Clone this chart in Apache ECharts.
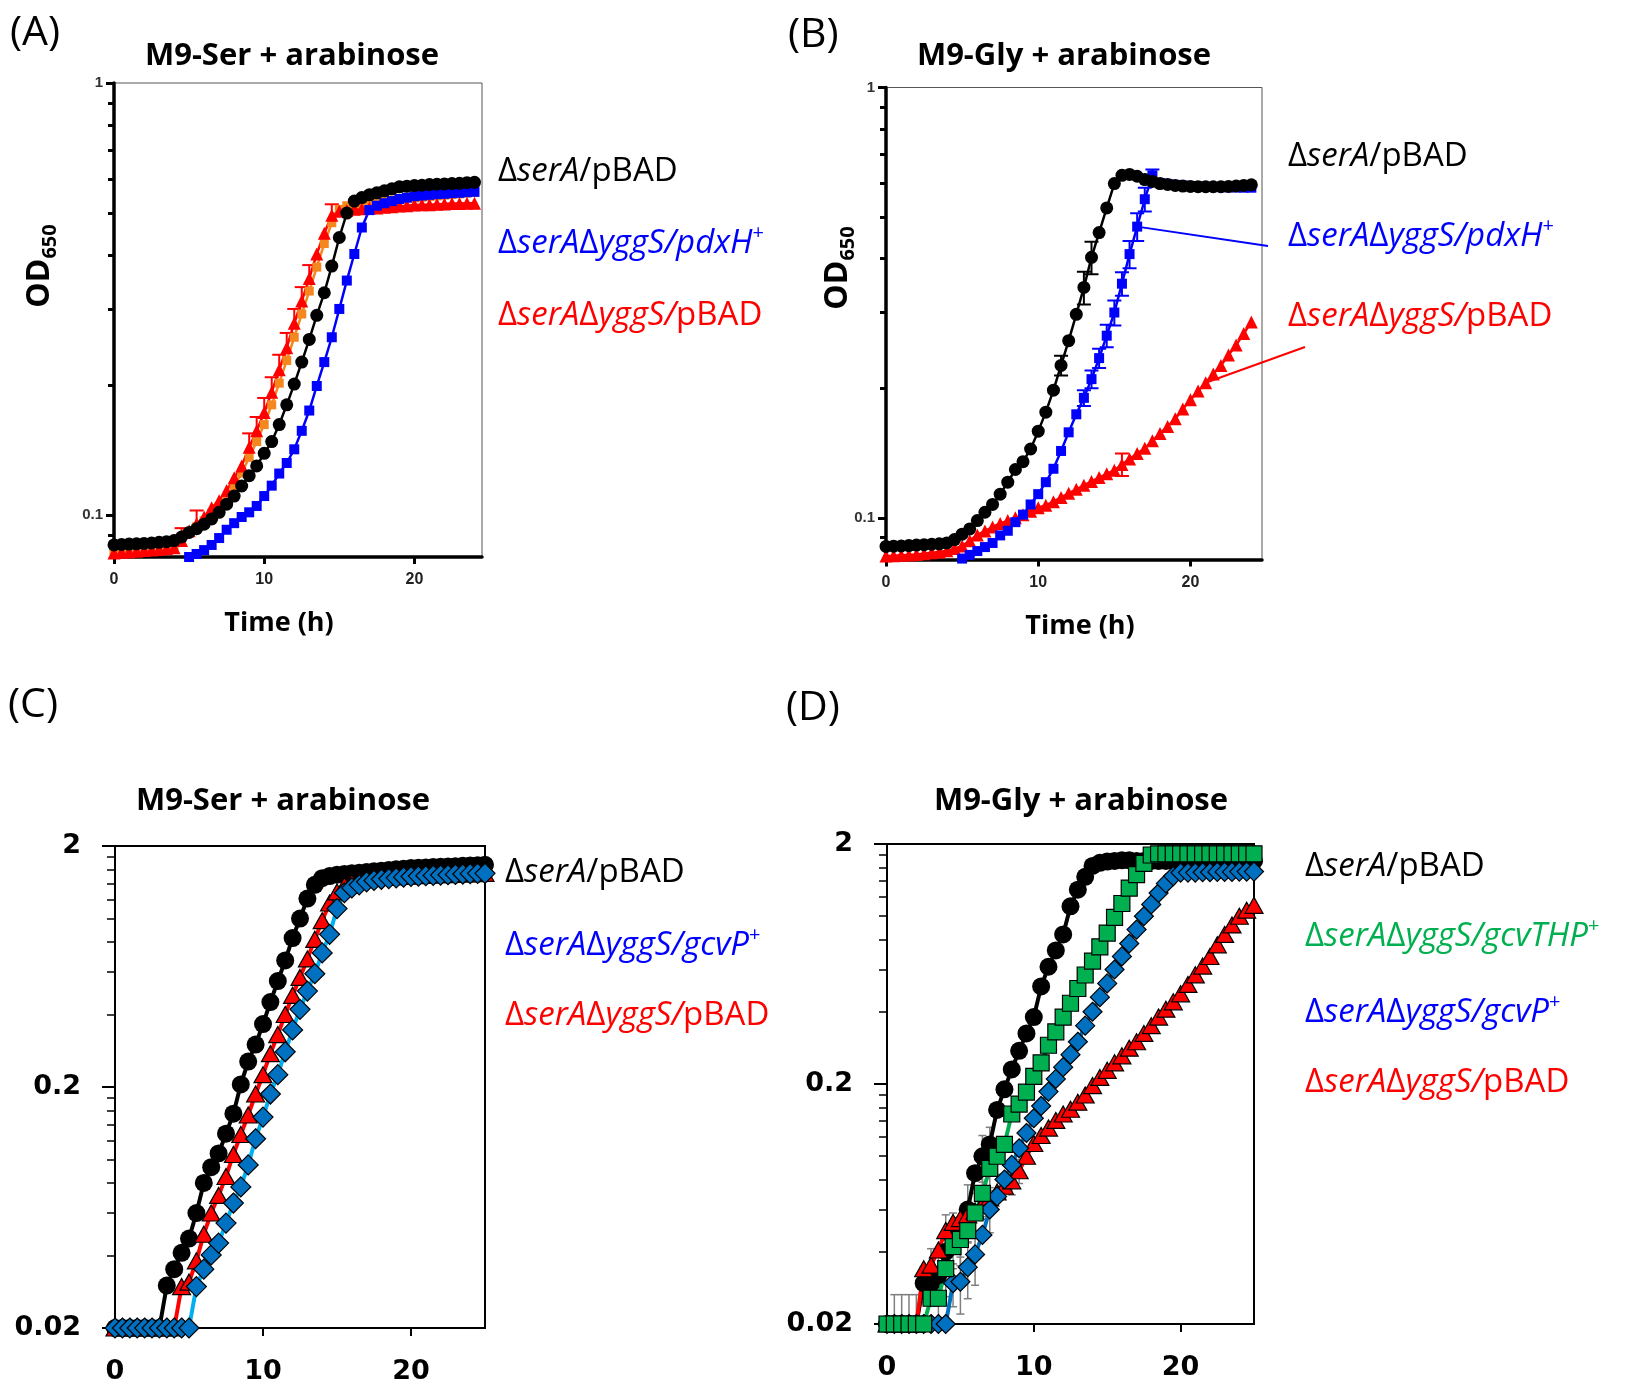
<!DOCTYPE html>
<html><head><meta charset="utf-8">
<script src="https://cdn.jsdelivr.net/npm/echarts@6/dist/echarts.min.js"></script>
<style>html,body{margin:0;padding:0;background:#fff}#c{width:1633px;height:1384px}</style>
</head><body><div id="c"></div>
<script>
// ---------- DATA ----------
const tA = [0,0.5,1,1.5,2,2.5,3,3.5,4,4.5,5,5.5,6,6.5,7,7.5,8,8.5,9,9.5,10,10.5,11,11.5,12,12.5,13,13.5,14,14.5,15,15.5,16,16.5,17,17.5,18,18.5,19,19.5,20,20.5,21,21.5,22,22.5,23,23.5,24];
const tC = [0,0.5,1,1.5,2,2.5,3,3.5,4,4.5,5,5.5,6,6.5,7,7.5,8,8.5,9,9.5,10,10.5,11,11.5,12,12.5,13,13.5,14,14.5,15,15.5,16,16.5,17,17.5,18,18.5,19,19.5,20,20.5,21,21.5,22,22.5,23,23.5,24,24.5,25];

// Panel A (M9-Ser + arabinose)
const blackA = [0.0853,0.0855,0.0857,0.0858,0.086,0.0862,0.0865,0.0868,0.0873,0.089,
  0.0912,0.093,0.0953,0.098,0.1015,0.106,0.1107,0.1168,0.1234,0.130,
  0.139,0.148,0.162,0.180,0.201,0.226,0.255,0.290,0.327,0.377,
  0.439,0.500,0.533,0.543,0.551,0.557,0.563,0.569,0.575,0.577,
  0.579,0.580,0.582,0.583,0.584,0.585,0.586,0.588,0.589];
const redA = [0.0817,0.082,0.0822,0.0825,0.0828,0.083,0.0833,0.0836,0.084,0.0873,
  0.092,0.0955,0.099,0.104,0.108,0.114,0.122,0.130,0.1436,0.1567,
  0.1727,0.1925,0.217,0.244,0.278,0.313,0.353,0.402,0.449,0.494,
  0.505,0.507,0.510,0.512,0.513,0.514,0.516,0.517,0.519,0.520,
  0.522,0.523,0.523,0.524,0.525,0.526,0.526,0.527,0.527];
const orangeA = [0.0825,0.0827,0.083,0.0832,0.0835,0.0838,0.084,0.0843,0.0848,0.087,
  0.091,0.094,0.097,0.101,0.105,0.110,0.117,0.125,0.136,0.148,
  0.162,0.180,0.202,0.228,0.258,0.292,0.330,0.375,0.425,0.475,
  0.510,0.520,0.525,0.528,0.530,0.532,0.534,0.536,0.538,0.540,
  0.542,0.544,0.546,0.548,0.550,0.552,0.554,0.556,0.558];
const blueA = [null,null,null,null,null,null,null,null,null,null,
  0.080,0.0813,0.083,0.0853,0.0885,0.0925,0.0958,0.099,0.1015,0.105,
  0.1107,0.117,0.1248,0.132,0.142,0.1567,0.1746,0.199,0.226,0.258,
  0.300,0.349,0.402,0.463,0.508,0.520,0.527,0.533,0.539,0.543,
  0.547,0.549,0.551,0.553,0.554,0.556,0.557,0.559,0.560];
const errRedA = [[4.5,0.006],[5.5,0.007],[9,0.011],[9.5,0.012],[10,0.014],[10.5,0.016],[11,0.018],[11.5,0.02],[12,0.022],[12.5,0.024],[13,0.026],[14.5,0.03]];

// Panel B (M9-Gly + arabinose)
const blackB = [0.0858,0.0859,0.086,0.0862,0.0864,0.0866,0.0868,0.087,0.0874,0.089,
  0.0916,0.0942,0.0985,0.103,0.1074,0.1135,0.121,0.1295,0.135,0.1445,
  0.159,0.176,0.198,0.226,0.258,0.297,0.343,0.403,0.460,0.525,
  0.598,0.625,0.628,0.622,0.611,0.605,0.598,0.595,0.592,0.590,
  0.589,0.588,0.588,0.588,0.588,0.589,0.590,0.592,0.594];
const blueB = [null,null,null,null,null,null,null,null,null,null,
  0.0804,0.082,0.0837,0.0855,0.0874,0.091,0.0933,0.0977,0.1017,0.1074,
  0.1135,0.121,0.130,0.143,0.158,0.174,0.19,0.21,0.235,0.265,
  0.30,0.35,0.41,0.475,0.55,0.625,0.600,0.597,0.594,0.592,
  0.590,0.589,0.588,0.587,0.587,0.586,0.586,0.585,0.585];
const redB = [0.0815,0.0816,0.0818,0.082,0.0822,0.0825,0.0829,0.0833,0.0838,0.0848,
  0.086,0.0885,0.0912,0.0932,0.0952,0.097,0.0985,0.100,0.1017,0.1035,
  0.1055,0.107,0.109,0.1115,0.114,0.1165,0.119,0.1215,0.124,0.1265,
  0.129,0.133,0.137,0.141,0.145,0.151,0.157,0.163,0.170,0.179,
  0.188,0.197,0.206,0.216,0.226,0.239,0.252,0.268,0.285];
const errBlackB = [[11.5,0.012],[13,0.03],[13.5,0.035]];
const errBlueB = [[13,0.008],[13.5,0.01],[14,0.012],[14.5,0.016],[15,0.02],[15.5,0.022],[16,0.03],[16.5,0.035],[17,0.035],[17.5,0.02]];
const errRedB = [[15.5,0.008]];

// Panel C (M9-Ser + arabinose)
const blackC = [0.02,0.02,0.02,0.02,0.02,0.02,0.02,0.030,0.0351,0.041,
  0.047,0.06,0.08,0.093,0.106,0.128,0.155,0.205,0.255,0.30,
  0.365,0.45,0.55,0.67,0.83,1.0,1.21,1.38,1.47,1.50,
  1.52,1.53,1.54,1.55,1.56,1.57,1.58,1.59,1.60,1.61,
  1.62,1.625,1.63,1.635,1.64,1.645,1.65,1.655,1.66,1.665,1.67];
const redC = [0.02,0.02,0.02,0.02,0.02,0.02,0.02,0.02,0.02,0.0297,
  0.031,0.038,0.049,0.06,0.071,0.085,0.105,0.127,0.153,0.187,
  0.225,0.275,0.33,0.40,0.48,0.57,0.68,0.82,0.98,1.16,
  1.29,1.37,1.41,1.44,1.46,1.47,1.48,1.485,1.49,1.495,
  1.50,1.505,1.51,1.515,1.52,1.52,1.525,1.53,1.53,1.535,1.54];
const blueC = [0.02,0.02,0.02,0.02,0.02,0.02,0.02,0.02,0.02,0.02,
  0.02,0.0297,0.0351,0.0402,0.045,0.0545,0.066,0.077,0.095,0.122,
  0.15,0.187,0.225,0.28,0.345,0.42,0.50,0.59,0.72,0.86,
  1.10,1.28,1.34,1.38,1.42,1.44,1.455,1.465,1.475,1.485,
  1.495,1.50,1.505,1.51,1.515,1.52,1.525,1.53,1.535,1.54,1.54];

// Panel D (M9-Gly + arabinose)
const blackD = [0.02,0.02,0.02,0.02,0.02,0.0296,0.0296,0.032,0.040,0.046,
  0.052,0.06,0.085,0.10,0.112,0.156,0.19,0.23,0.275,0.325,
  0.38,0.51,0.616,0.72,0.84,1.1,1.29,1.46,1.62,1.67,
  1.69,1.70,1.71,1.71,1.70,1.70,1.70,1.70,1.70,1.70,
  1.70,1.70,1.70,1.70,1.70,1.70,1.70,1.70,1.70,1.70,1.70];
const greenD = [0.02,0.02,0.02,0.02,0.02,0.02,0.0256,0.0256,0.034,0.042,
  0.045,0.049,0.058,0.07,0.089,0.10,0.112,0.15,0.165,0.185,
  0.215,0.245,0.29,0.33,0.38,0.434,0.50,0.569,0.65,0.746,
  0.85,0.99,1.13,1.31,1.49,1.66,1.80,1.82,1.82,1.82,
  1.82,1.82,1.82,1.82,1.82,1.82,1.82,1.82,1.82,1.82,1.82];
const blueD = [0.02,0.02,0.02,0.02,0.02,0.02,0.02,0.02,0.02,0.0296,
  0.030,0.0345,0.039,0.047,0.060,0.068,0.080,0.092,0.108,0.125,
  0.144,0.162,0.186,0.21,0.235,0.265,0.30,0.35,0.40,0.46,
  0.525,0.60,0.68,0.77,0.88,1.0,1.12,1.25,1.37,1.47,
  1.52,1.52,1.52,1.525,1.525,1.53,1.53,1.53,1.535,1.535,1.535];
const redD = [0.02,0.02,0.02,0.02,0.02,0.034,0.0352,0.0407,0.049,0.053,
  0.055,0.057,0.059,0.063,0.067,0.071,0.075,0.079,0.087,0.10,
  0.113,0.122,0.131,0.141,0.150,0.157,0.168,0.18,0.197,0.213,
  0.228,0.245,0.262,0.282,0.30,0.325,0.35,0.38,0.41,0.44,
  0.475,0.52,0.57,0.62,0.68,0.76,0.84,0.92,1.0,1.06,1.11];
const errBlackD = [[2.5,0.005],[3.5,0.008],[4.5,0.012],[5.5,0.016],[6.5,0.022],[7,0.02]];
const errGreenD = [[0.5,0.0065],[1,0.0065],[1.5,0.0065],[2,0.0065],[3.5,0.006],[4,0.008],[5,0.01],[6,0.012],[6.5,0.014],[7,0.015],[7.5,0.016]];
const errBlueD = [[4.5,0.006],[5,0.008],[5.5,0.009],[6,0.01],[7,0.012]];
const errRedD = [[3,0.006],[4,0.008],[8.5,0.01],[9,0.01]];

// tick values
const majorAB = [0.1, 1];
const minorAB = [0.09,0.2,0.3,0.4,0.5,0.6,0.7,0.8,0.9];
const majorCD = [0.02, 0.2, 2];
const minorCD = [0.04,0.06,0.08,0.1,0.12,0.14,0.16,0.18,0.4,0.6,0.8,1,1.2,1.4,1.6,1.8];
const xTicks = [0, 10, 20];

// ---------- HELPERS ----------
const LF = '"Open Sans","Noto Sans",sans-serif';
const BF = '"DejaVu Sans",Verdana,sans-serif';
const AF = '"Liberation Sans",Arial,sans-serif';
function pairs(ts, vs) { const o = []; for (let i = 0; i < ts.length; i++) if (vs[i] != null) o.push([ts[i], vs[i]]); return o; }
function valAt(ts, vs, t) { return vs[ts.indexOf(t)]; }
function errData(ts, vs, errs, mode) {
  return errs.map(([t, e]) => { const v = valAt(ts, vs, t); return [t, mode === 'up' ? v : v - e, v + e]; });
}
function errSeries(gi, data, color, mode, cap, lw) {
  return {
    type: 'custom', xAxisIndex: gi, yAxisIndex: gi * 2, data: data, clip: true, silent: true,
    renderItem: function (params, api) {
      const x = api.value(0), lo = api.value(1), hi = api.value(2);
      const p0 = api.coord([x, lo]), p1 = api.coord([x, hi]);
      const st = { stroke: color, lineWidth: lw };
      const ch = [
        { type: 'line', shape: { x1: p0[0], y1: p0[1], x2: p1[0], y2: p1[1] }, style: st },
        { type: 'line', shape: { x1: p1[0] - cap, y1: p1[1], x2: p1[0] + cap, y2: p1[1] }, style: st }
      ];
      if (mode === 'both') ch.push({ type: 'line', shape: { x1: p0[0] - cap, y1: p0[1], x2: p0[0] + cap, y2: p0[1] }, style: st });
      return { type: 'group', children: ch };
    }
  };
}
function lineSeries(gi, ts, vs, o) {
  return {
    type: 'line', xAxisIndex: gi, yAxisIndex: gi * 2, data: pairs(ts, vs),
    symbol: o.symbol, symbolSize: o.size, showAllSymbol: true, clip: true,
    lineStyle: { color: o.line, width: o.lw },
    itemStyle: { color: o.fill, borderColor: o.border || o.fill, borderWidth: o.border ? 1.2 : 0 },
    emphasis: { disabled: true }, z: 2
  };
}
const fmt = v => String(+Number(v).toPrecision(3));
function xAx(gi, max, big) {
  return {
    type: 'value', gridIndex: gi, min: 0, max: max, position: 'bottom',
    axisLine: { show: true, onZero: false, lineStyle: { color: '#000', width: big ? 2 : 3.5 } },
    axisTick: { show: true, inside: false, length: big ? 8 : 7, customValues: xTicks, lineStyle: { color: '#000', width: big ? 2 : 3 } },
    axisLabel: { customValues: xTicks, formatter: fmt, fontFamily: big ? BF : AF, fontWeight: 'bold', color: big ? '#000' : '#222', fontSize: big ? 27 : 16, margin: big ? 30 : 15 },
    splitLine: { show: false }
  };
}
function yMajor(gi, min, max, ticks, big) {
  return {
    type: 'log', logBase: 10, gridIndex: gi, min: min, max: max, position: 'left',
    axisLine: { show: true, onZero: false, lineStyle: { color: '#000', width: big ? 2 : 3.5 } },
    axisTick: { show: true, inside: false, length: big ? 13 : 8, customValues: ticks, lineStyle: { color: '#000', width: big ? 2 : 3 } },
    axisLabel: { customValues: ticks, formatter: fmt, fontFamily: big ? BF : AF, fontWeight: 'bold', color: big ? '#000' : '#333', fontSize: big ? 27 : 15, margin: big ? 34 : 11 },
    splitLine: { show: false }, minorTick: { show: false }
  };
}
function yMinor(gi, min, max, ticks, big) {
  return {
    type: 'log', logBase: 10, gridIndex: gi, min: min, max: max, position: 'left',
    axisLine: { show: false, onZero: false },
    axisTick: { show: true, inside: false, length: big ? 8 : 6, customValues: ticks, lineStyle: { color: '#000', width: big ? 1.5 : 3 } },
    axisLabel: { show: false }, splitLine: { show: false }
  };
}

// ---------- CHART ----------
const chart = echarts.init(document.getElementById('c'), null, { renderer: 'canvas' });
const gbase = { show: true, backgroundColor: 'transparent', outerBoundsMode: 'none', containLabel: false };
const option = {
  animation: false,
  backgroundColor: '#fff',
  grid: [
    Object.assign({ left: 114, top: 83, width: 368, height: 474, borderColor: '#555', borderWidth: 1 }, gbase),
    Object.assign({ left: 886, top: 87.5, width: 376, height: 472, borderColor: '#555', borderWidth: 1 }, gbase),
    Object.assign({ left: 115, top: 846, width: 370, height: 482, borderColor: '#000', borderWidth: 2 }, gbase),
    Object.assign({ left: 887, top: 844, width: 367, height: 480, borderColor: '#000', borderWidth: 2 }, gbase)
  ],
  xAxis: [xAx(0, 24.5, false), xAx(1, 24.7, false), xAx(2, 25, true), xAx(3, 25, true)],
  yAxis: [
    yMajor(0, 0.08, 1, majorAB, false), yMinor(0, 0.08, 1, minorAB, false),
    yMajor(1, 0.08, 1, majorAB, false), yMinor(1, 0.08, 1, minorAB, false),
    yMajor(2, 0.02, 2, majorCD, true), yMinor(2, 0.02, 2, minorCD, true),
    yMajor(3, 0.02, 2, majorCD, true), yMinor(3, 0.02, 2, minorCD, true)
  ],
  series: [
    // A
    lineSeries(0, tA, orangeA, { symbol: 'rect', size: 9, fill: '#F5871F', line: '#F5871F', lw: 2.5 }),
    errSeries(0, errData(tA, redA, errRedA, 'up'), '#FF0000', 'up', 7, 2),
    lineSeries(0, tA, redA, { symbol: 'triangle', size: 13, fill: '#FF0000', line: '#FF0000', lw: 2.5 }),
    lineSeries(0, tA, blueA, { symbol: 'rect', size: 10, fill: '#0000FF', line: '#0000FF', lw: 2.5 }),
    lineSeries(0, tA, blackA, { symbol: 'circle', size: 13, fill: '#000', line: '#000', lw: 2.5 }),
    // B
    errSeries(1, errData(tA, redB, errRedB, 'both'), '#FF0000', 'both', 7, 2),
    lineSeries(1, tA, redB, { symbol: 'triangle', size: 13, fill: '#FF0000', line: '#FF0000', lw: 2.5 }),
    errSeries(1, errData(tA, blueB, errBlueB, 'both'), '#0000FF', 'both', 7, 2),
    lineSeries(1, tA, blueB, { symbol: 'rect', size: 10, fill: '#0000FF', line: '#0000FF', lw: 2.5 }),
    errSeries(1, errData(tA, blackB, errBlackB, 'both'), '#000', 'both', 7, 2),
    lineSeries(1, tA, blackB, { symbol: 'circle', size: 13, fill: '#000', line: '#000', lw: 2.5 }),
    // C
    lineSeries(2, tC, blackC, { symbol: 'circle', size: 18, fill: '#000', line: '#000', lw: 4 }),
    lineSeries(2, tC, redC, { symbol: 'triangle', size: [18, 16], fill: '#FF0000', line: '#FF0000', border: '#000', lw: 4 }),
    lineSeries(2, tC, blueC, { symbol: 'diamond', size: 20, fill: '#0070C0', line: '#00B0F0', border: '#000', lw: 4 }),
    // D
    errSeries(3, errData(tC, blackD, errBlackD, 'both'), '#7F7F7F', 'both', 4, 1.5),
    errSeries(3, errData(tC, greenD, errGreenD, 'both'), '#7F7F7F', 'both', 4, 1.5),
    errSeries(3, errData(tC, blueD, errBlueD, 'both'), '#7F7F7F', 'both', 4, 1.5),
    errSeries(3, errData(tC, redD, errRedD, 'both'), '#7F7F7F', 'both', 4, 1.5),
    lineSeries(3, tC, blackD, { symbol: 'circle', size: 18, fill: '#000', line: '#000', lw: 4 }),
    lineSeries(3, tC, redD, { symbol: 'triangle', size: [18, 16], fill: '#FF0000', line: '#FF0000', border: '#000', lw: 4 }),
    lineSeries(3, tC, blueD, { symbol: 'diamond', size: 19, fill: '#0070C0', line: '#0070C0', border: '#000', lw: 4 }),
    lineSeries(3, tC, greenD, { symbol: 'rect', size: 16, fill: '#00B050', line: '#00B050', border: '#000', lw: 4 })
  ]
};
chart.setOption(option);

// ---------- TEXT / ANNOTATIONS ----------
function txt(x, y, text, o) {
  return {
    type: 'text', x: x, y: y, rotation: o.rot || 0, z: 100,
    style: Object.assign({
      text: text, fill: o.color || '#000', fontSize: o.size, fontFamily: o.family || LF,
      fontWeight: o.weight || 'normal', align: o.align || 'left', textAlign: o.align || 'left',
      verticalAlign: 'middle', textVerticalAlign: 'middle'
    }, o.rich ? { rich: o.rich } : {})
  };
}
const LS = 33;
function legRich(color) {
  return {
    n: { fontSize: LS, fontFamily: LF, fill: color, fontStyle: 'normal', lineHeight: 42 },
    i: { fontSize: LS, fontFamily: LF, fill: color, fontStyle: 'italic', lineHeight: 42 },
    s: { fontSize: 20, fontFamily: LF, fill: color, fontStyle: 'normal', verticalAlign: 'top', lineHeight: 42 }
  };
}
const odRich = {
  a: { fontSize: 32, fontFamily: LF, fontWeight: 'bold', fill: '#000', lineHeight: 40 },
  b: { fontSize: 20, fontFamily: LF, fontWeight: 'bold', fill: '#000', verticalAlign: 'bottom', lineHeight: 40 }
};
const BLK = '#000', BLU = '#0000FF', RED = '#FF0000', GRN = '#00B050';
const pBlue = chart.convertToPixel({ gridIndex: 1 }, [16.5, valAt(tA, blueB, 16.5)]);
const pRed = chart.convertToPixel({ gridIndex: 1 }, [21, valAt(tA, redB, 21)]);
const TS = { size: 31, weight: 'bold', align: 'center' };

const g = [
  txt(10, 33, '(A)', { size: 41 }),
  txt(788, 35, '(B)', { size: 41 }),
  txt(8, 705, '(C)', { size: 41 }),
  txt(786, 708, '(D)', { size: 41 }),
  txt(292, 56, 'M9-Ser + arabinose', TS),
  txt(1064, 56, 'M9-Gly + arabinose', TS),
  txt(283, 801, 'M9-Ser + arabinose', TS),
  txt(1081, 801, 'M9-Gly + arabinose', TS),
  txt(279, 623, 'Time (h)', { size: 27, weight: 'bold', align: 'center' }),
  txt(1080, 626, 'Time (h)', { size: 27, weight: 'bold', align: 'center' }),
  txt(40, 266, '{a|OD}{b|650}', { size: 32, weight: 'bold', align: 'center', rot: Math.PI / 2, rich: odRich }),
  txt(838, 268, '{a|OD}{b|650}', { size: 32, weight: 'bold', align: 'center', rot: Math.PI / 2, rich: odRich }),
  // legends A
  txt(498, 172, '{n|Δ}{i|serA}{n|/pBAD}', { size: LS, rich: legRich(BLK) }),
  txt(498, 244, '{n|Δ}{i|serA}{n|Δ}{i|yggS/pdxH}{s|+}', { size: LS, rich: legRich(BLU) }),
  txt(498, 316, '{n|Δ}{i|serA}{n|Δ}{i|yggS/}{n|pBAD}', { size: LS, rich: legRich(RED) }),
  // legends B
  txt(1288, 157, '{n|Δ}{i|serA}{n|/pBAD}', { size: LS, rich: legRich(BLK) }),
  txt(1288, 237, '{n|Δ}{i|serA}{n|Δ}{i|yggS/pdxH}{s|+}', { size: LS, rich: legRich(BLU) }),
  txt(1288, 317, '{n|Δ}{i|serA}{n|Δ}{i|yggS/}{n|pBAD}', { size: LS, rich: legRich(RED) }),
  // legends C
  txt(505, 873, '{n|Δ}{i|serA}{n|/pBAD}', { size: LS, rich: legRich(BLK) }),
  txt(505, 946, '{n|Δ}{i|serA}{n|Δ}{i|yggS/gcvP}{s|+}', { size: LS, rich: legRich(BLU) }),
  txt(505, 1016, '{n|Δ}{i|serA}{n|Δ}{i|yggS/}{n|pBAD}', { size: LS, rich: legRich(RED) }),
  // legends D
  txt(1305, 867, '{n|Δ}{i|serA}{n|/pBAD}', { size: LS, rich: legRich(BLK) }),
  txt(1305, 937, '{n|Δ}{i|serA}{n|Δ}{i|yggS/gcvTHP}{s|+}', { size: LS, rich: legRich(GRN) }),
  txt(1305, 1013, '{n|Δ}{i|serA}{n|Δ}{i|yggS/gcvP}{s|+}', { size: LS, rich: legRich(BLU) }),
  txt(1305, 1083, '{n|Δ}{i|serA}{n|Δ}{i|yggS/}{n|pBAD}', { size: LS, rich: legRich(RED) }),
  // pointer lines in B
  { type: 'line', z: 50, shape: { x1: pBlue[0], y1: pBlue[1], x2: 1268, y2: 246 }, style: { stroke: BLU, lineWidth: 2 } },
  { type: 'line', z: 50, shape: { x1: pRed[0], y1: pRed[1], x2: 1305, y2: 347 }, style: { stroke: RED, lineWidth: 2 } }
];
chart.setOption({ graphic: { elements: g } });
</script>
</body></html>
